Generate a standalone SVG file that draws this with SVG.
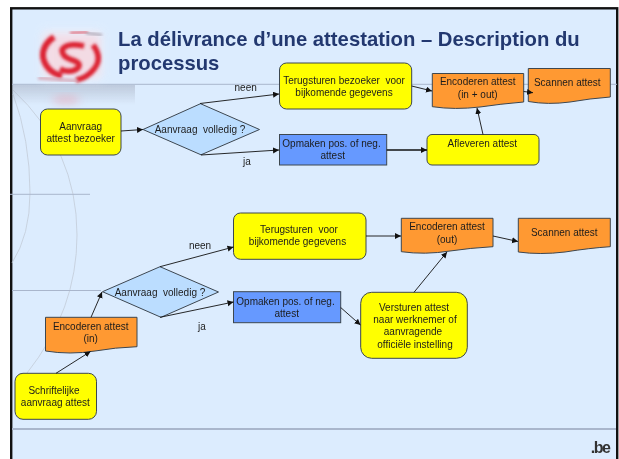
<svg xmlns="http://www.w3.org/2000/svg" width="619" height="459" viewBox="0 0 619 459">
<style>
.n{stroke:#3c4650;stroke-width:1}
.y{fill:#ffff00}.o{fill:#ff9933}.b{fill:#6699ff}.d{fill:#bbddff}
text{font-family:"Liberation Sans",Arial,sans-serif;font-size:10px;fill:#1c1c1c;text-anchor:middle;white-space:pre}
.c line{stroke:#111;stroke-width:.9;marker-end:url(#a)}
.g{stroke:#a9b6cc;fill:none}
.r{stroke:#c3ccd8;stroke-width:.8;fill:none}
</style>
<defs>
<marker id="a" markerUnits="userSpaceOnUse" markerWidth="7" markerHeight="7" refX="6" refY="3" orient="auto"><path d="M0 0L6 3L0 6z" fill="#111"/></marker>
<filter id="s" x="-30%" y="-30%" width="160%" height="160%"><feGaussianBlur stdDeviation="1.500"/></filter>
<filter id="t" x="-5%" y="-5%" width="110%" height="110%"><feGaussianBlur stdDeviation="0.3"/></filter>
<filter id="w" x="-40%" y="-40%" width="180%" height="180%"><feGaussianBlur stdDeviation="4"/></filter>
<linearGradient id="f" x1="0" y1="0" x2="0" y2="1"><stop offset="0" stop-color="#aab4c6" stop-opacity=".6"/><stop offset="1" stop-color="#aab4c6" stop-opacity="0"/></linearGradient>
</defs>
<rect width="619" height="459" fill="#fff"/>
<rect x="11.200" y="8.300" width="606" height="452" fill="#dcecfe" stroke="#111" stroke-width="2.400"/>
<g id="background" filter="url(#t)">
<path class="r" d="M13 94Q30 140 30 193Q30 235 12 263"/>
<path class="r" d="M13 90Q77 150 77 235Q77 310 27 373"/>
<rect x="13" y="85" width="122" height="20" fill="url(#f)"/>
<path class="g" d="M12 84.300H617"/>
<path class="g" d="M10 194.300H90"/>
<path class="g" d="M12 290.500H101"/>
<path class="g" stroke-width="2" d="M12 429H616"/>
</g>
<g id="logo">
<rect x="42" y="30" width="60" height="50" fill="#eef6ff" opacity=".7" filter="url(#w)"/>
<rect x="44" y="34" width="56" height="42" fill="#ffc4cc" opacity=".5" filter="url(#w)"/>
<g filter="url(#s)" fill="none" stroke="#dc2030">
<path d="M54 37Q42 45 43 57Q46 72 62 76" stroke-width="6"/>
<path d="M93 45Q103 58 94 69Q87 78 76 80" stroke-width="5.500"/>
<path d="M84 46Q66 42 62 50Q62 57 72 60Q82 63 78 68Q70 74 60 69" stroke-width="5.500"/>
</g>
<g filter="url(#w)" opacity=".5" fill="#f09aa8">
<ellipse cx="66" cy="100" rx="14" ry="4"/>
</g>
<path d="M38 78L78 81" stroke="#d6a8b8" stroke-width="3" filter="url(#s)"/>
<path d="M70 33L88 32" stroke="#e07888" stroke-width="3" filter="url(#s)"/>
<path d="M86 33L102 35" stroke="#a09aa8" stroke-width="2" filter="url(#s)"/>
</g>
<g id="title" filter="url(#t)">
<text x="118" y="45.500" style="font-size:20.280px;font-weight:bold;fill:#24396f;text-anchor:start">La délivrance d’une attestation – Description du</text>
<text x="118" y="70" style="font-size:20.280px;font-weight:bold;fill:#24396f;text-anchor:start">processus</text>
</g>
<g filter="url(#t)">
<g id="n1"><rect class="n y" x="40.500" y="109" width="80.500" height="46" rx="7"/><text x="80.700" y="130">Aanvraag</text><text x="80.700" y="142">attest bezoeker</text></g>
<g id="d1"><path class="n d" d="M143 129.500L200.500 103.700L259.500 129.500L201 154.800z"/><text x="200" y="132.700">Aanvraag  volledig ?</text></g>
<g id="n2"><rect class="n y" x="279.500" y="63" width="132.200" height="46" rx="7"/><text x="344" y="83.700">Terugsturen bezoeker  voor</text><text x="344" y="95.700">bijkomende gegevens</text></g>
<g id="n3"><rect class="n b" x="279.500" y="134.500" width="107.200" height="30.500"/><text x="331.500" y="146.700">Opmaken pos. of neg.</text><text x="332.700" y="159">attest</text></g>
<g id="n4"><path class="n o" d="M432.300 73.500H523.700V102Q500 104 480 107Q455 110 432.300 106.700z"/><text x="477.700" y="84.700">Encoderen attest</text><text x="477.700" y="97.700">(in + out)</text></g>
<g id="n5"><path class="n o" d="M528.300 68.500H610.300V97Q590 98.500 570 102Q548 105 528.300 101.500z"/><text x="567.300" y="85.700">Scannen attest</text></g>
<g id="n6"><rect class="n y" x="427" y="134.500" width="112" height="30.500" rx="5"/><text x="482.300" y="146.700">Afleveren attest</text></g>
<g id="n7"><rect class="n y" x="233.500" y="213" width="132.500" height="46.300" rx="7"/><text x="299" y="233">Terugsturen  voor</text><text x="297.500" y="245">bijkomende gegevens</text></g>
<g id="d2"><path class="n d" d="M102.500 291.700L160 266.700L218.500 292L161 317.300z"/><text x="160" y="296">Aanvraag  volledig ?</text></g>
<g id="n8"><rect class="n b" x="233.500" y="291.700" width="107.200" height="31"/><text x="285.500" y="305.300">Opmaken pos. of neg.</text><text x="286.700" y="317.300">attest</text></g>
<g id="n9"><path class="n o" d="M45.500 317.300H137V346.700Q115 347.500 95 351Q70 355 45.500 351z"/><text x="90.700" y="330">Encoderen attest</text><text x="90.700" y="342.300">(in)</text></g>
<g id="n10"><rect class="n y" x="15" y="373.300" width="81.500" height="46" rx="8"/><text x="54" y="394">Schriftelijke</text><text x="55.300" y="406">aanvraag attest</text></g>
<g id="n11"><path class="n o" d="M401.300 218.300H493V246.700Q470 248 450 251Q425 255 401.300 251.700z"/><text x="447" y="230">Encoderen attest</text><text x="447" y="243.300">(out)</text></g>
<g id="n12"><path class="n o" d="M518.300 218.300H610.300V246.700Q590 248 565 252Q540 255 518.300 252z"/><text x="564.300" y="235.700">Scannen attest</text></g>
<g id="n13"><rect class="n y" x="360.700" y="292.300" width="106.600" height="66" rx="11"/><text x="414" y="311">Versturen attest</text><text x="415" y="323">naar werknemer of</text><text x="413" y="335">aanvragende</text><text x="415" y="347.500">officiële instelling</text></g>
</g>
<g id="connectors" class="c">
<line x1="121" y1="131" x2="143" y2="129.500"/>
<line x1="200" y1="103.500" x2="279" y2="94"/>
<line x1="201" y1="155" x2="279" y2="150"/>
<line x1="411.700" y1="86" x2="432" y2="91"/>
<line x1="523.700" y1="91.500" x2="533" y2="92.700"/>
<line x1="386.700" y1="150" x2="427" y2="150" style="stroke-width:1.300"/>
<line x1="483" y1="134.500" x2="477" y2="108"/>
<line x1="56" y1="373.300" x2="90.500" y2="351.500"/>
<line x1="91" y1="317.300" x2="102" y2="292"/>
<line x1="160" y1="266.700" x2="233.500" y2="247"/>
<line x1="160" y1="317.300" x2="233.500" y2="302"/>
<line x1="366" y1="236" x2="401" y2="236"/>
<line x1="493" y1="236" x2="518" y2="241.500"/>
<line x1="340.700" y1="307.500" x2="360.500" y2="325"/>
<line x1="414" y1="292.300" x2="447" y2="252"/>
</g>
<g id="labels" filter="url(#t)">
<text x="245.700" y="91">neen</text>
<text x="247" y="165">ja</text>
<text x="200" y="248.700">neen</text>
<text x="202" y="330">ja</text>
<text x="600" y="453" style="font-size:16px;font-weight:bold;letter-spacing:-1.500px;fill:#333">.be</text>
</g>
</svg>
